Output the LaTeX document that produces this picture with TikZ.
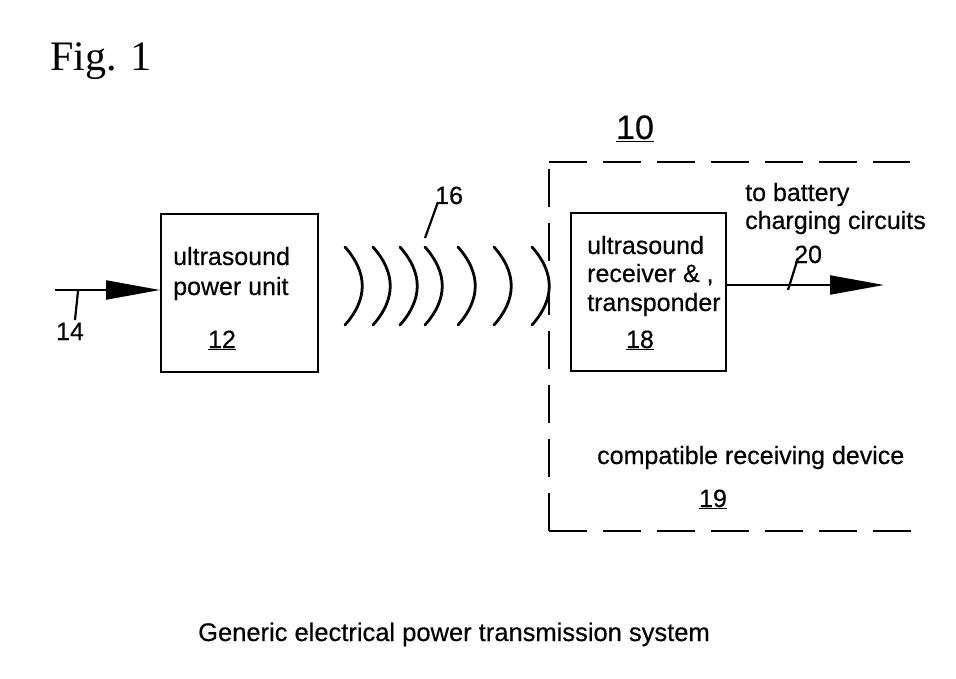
\documentclass[tikz,border=0pt]{standalone}
\usepackage{fontspec}
\setmainfont{Liberation Sans}
\newfontfamily\lab[FakeBold=0.4]{Liberation Sans}
\newfontfamily\figfont{Liberation Serif}
\usetikzlibrary{arrows.meta}
\begin{document}
\begin{tikzpicture}[x=1pt,y=-1pt,
  txt/.style={font=\lab\fontsize{25}{30}\selectfont, inner sep=0pt, anchor=base west},
  num/.style={font=\lab\fontsize{25}{30}\selectfont, inner sep=0pt, anchor=base},
  unitbox/.style={draw, line width=2.4pt, inner sep=0pt},
  wave/.style={line width=2.8pt, line cap=round},
  flow/.style={line width=2.2pt, -{Triangle[length=54pt,width=19pt]}},
  tick/.style={line width=2.2pt},
  envelope/.style={line width=2.8pt, dash pattern=on 38pt off 16pt}
]
\useasboundingbox (0,0) rectangle (956,679);

% Fig. 1
\node[font=\figfont\fontsize{42}{46}\selectfont, inner sep=0pt, anchor=base west] (fig) at (50,71) {Fig. 1};

% box 12
\node[unitbox, minimum width=157pt, minimum height=158pt, anchor=north west] (pu) at (160,213) {};
\node[txt] (putxt) at (173,265) {ultrasound};
\node[txt] (putxt2) at (173,295) {power unit};
\node[num] (n12) at (222,348) {\underline{12}};

% input
\coordinate (in) at (55,290);
\draw[flow] (in) -- (pu.west |- in);
\coordinate (t14a) at (78,291);
\coordinate (t14b) at (75,320);
\draw[tick] (t14a) -- (t14b);
\node[num] (n14) at (70,340) {14};

% waves
\foreach \x/\c in {345/368,373/396,400/423,425/448,458/481,494/517,532/555}{
  \draw[wave] (\x,247) .. controls (\c,273) and (\c,299) .. (\x,325);
}
\coordinate (t16a) at (425,238);
\coordinate (t16b) at (438,202);
\draw[tick] (t16a) -- (t16b);
\node[num, anchor=base west] (n16) at (435,204) {16};

% dashed envelope 10
\coordinate (e1) at (910,162);
\coordinate (e2) at (549,162);
\coordinate (e3) at (549,531);
\coordinate (e4) at (920,531);
\draw[envelope] (e2) -- (e1);
\draw[envelope] (e3) -- (e2);
\draw[envelope] (e3) -- (e4);
\node[font=\lab\fontsize{34}{38}\selectfont, inner sep=0pt, anchor=base] (n10) at (635,139) {\underline{10}};

% box 18
\node[unitbox, minimum width=155pt, minimum height=158pt, anchor=north west] (rx) at (570,212) {};
\node[txt] (rxt1) at (587,254) {ultrasound};
\node[txt] (rxt2) at (587,282) {receiver \& ,};
\node[txt] (rxt3) at (587,311) {transponder};
\node[num] (n18) at (640,348) {\underline{18}};

% output
\coordinate (out) at (884,285);
\draw[flow] (rx.east |- out) -- (out);
\coordinate (t20a) at (788,290);
\coordinate (t20b) at (798,258);
\draw[tick] (t20a) -- (t20b);
\node[num, anchor=base west] (n20) at (794,263) {20};
\node[txt] (bat1) at (745,201) {to battery};
\node[txt] (bat2) at (745,229) {charging circuits};

% device
\node[txt] (dev) at (597,464) {compatible receiving device};
\node[num] (n19) at (713,507) {\underline{19}};

% caption
\node[font=\lab\fontsize{25.5}{30}\selectfont, inner sep=0pt, anchor=base] (cap) at (454,641) {Generic electrical power transmission system};
\end{tikzpicture}
\end{document}
